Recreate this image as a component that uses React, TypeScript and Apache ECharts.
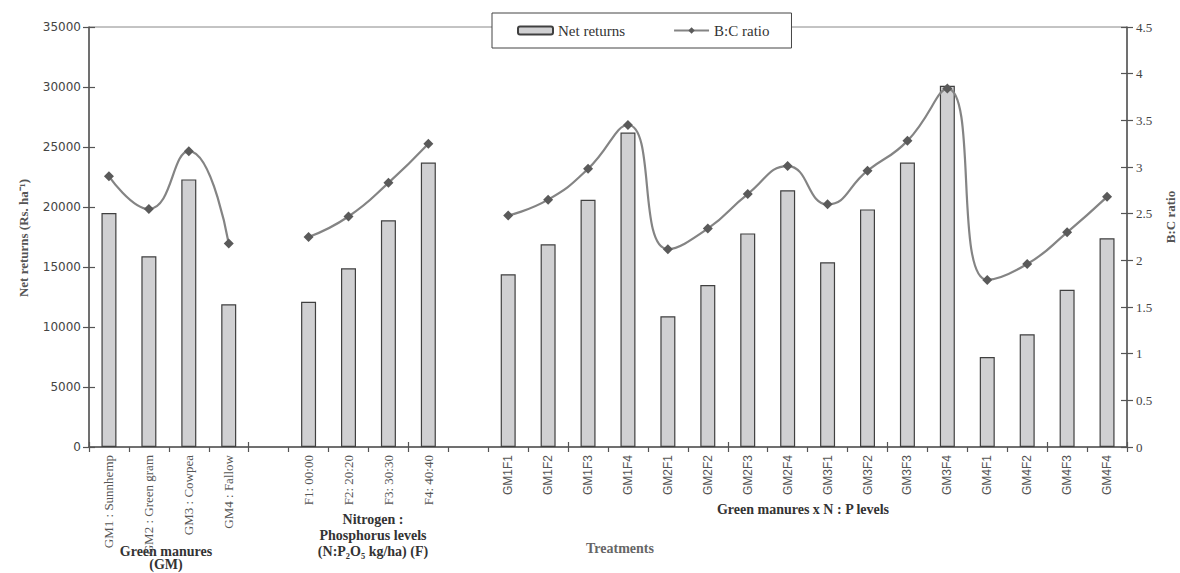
import React, { useEffect, useRef } from "react";
import * as echarts from "echarts";

// ---- data ----
const gmCategories = ["GM1 : Sunnhemp", "GM2 : Green gram", "GM3 : Cowpea", "GM4 : Fallow"];
const fCategories = ["F1: 00:00", "F2: 20:20", "F3: 30:30", "F4: 40:40"];
const comboCategories = [
  "GM1F1", "GM1F2", "GM1F3", "GM1F4",
  "GM2F1", "GM2F2", "GM2F3", "GM2F4",
  "GM3F1", "GM3F2", "GM3F3", "GM3F4",
  "GM4F1", "GM4F2", "GM4F3", "GM4F4",
];

const gmNetReturns = [19500, 15900, 22300, 11900];
const fNetReturns = [12100, 14900, 18900, 23700];
const comboNetReturns = [
  14400, 16900, 20600, 26200,
  10900, 13500, 17800, 21400,
  15400, 19800, 23700, 30100,
  7500, 9400, 13100, 17400,
];

const gmBC = [2.9, 2.55, 3.17, 2.18];
const fBC = [2.25, 2.47, 2.83, 3.25];
const comboBC = [
  2.48, 2.65, 2.98, 3.45,
  2.12, 2.34, 2.71, 3.01,
  2.6, 2.96, 3.28, 3.84,
  1.79, 1.96, 2.3, 2.68,
];

const leftTicks = { min: 0, max: 35000, interval: 5000 };
const rightTicks = { min: 0, max: 4.5, interval: 0.5 };

const categories = [...gmCategories, "", ...fCategories, "", ...comboCategories];
const netReturns = [...gmNetReturns, null, ...fNetReturns, null, ...comboNetReturns];
const bcRatio = [...gmBC, null, ...fBC, null, ...comboBC];

const SERIF = "'Liberation Serif', 'Times New Roman', serif";
const SANS = "'Liberation Sans', Arial, sans-serif";
const AXIS_COLOR = "#555";

export default function App() {
  const ref = useRef<HTMLDivElement>(null);

  useEffect(() => {
    if (!ref.current) return;
    const chart = echarts.init(ref.current, null, { renderer: "svg" });
    const grid = { left: 89, right: 53, top: 27, bottom: 126 };
    const option: any = {
      animation: false,
      backgroundColor: "#fff",
      grid: { ...grid, show: true, borderColor: "#888", borderWidth: 1, backgroundColor: "transparent" },
      legend: {
        left: 492,
        top: 13,
        padding: [10, 22, 10, 25],
        itemGap: 48,
        itemWidth: 35,
        itemHeight: 8,
        backgroundColor: "#fff",
        borderColor: "#444",
        borderWidth: 1,
        textStyle: { fontFamily: SERIF, fontSize: 15, color: "#333" },
        data: ["Net returns", "B:C ratio"],
      },
      xAxis: [
        {
          type: "category",
          data: categories,
          position: "bottom",
          axisLine: { lineStyle: { color: AXIS_COLOR, width: 1.5 } },
          axisTick: { show: true, length: 5, lineStyle: { color: AXIS_COLOR, width: 1.2 } },
          axisLabel: {
            interval: 0,
            rotate: 90,
            margin: 8,
            formatter: (v: string, i: number) => (i < 10 ? `{s|${v}}` : `{n|${v}}`),
            rich: {
              s: { fontFamily: SERIF, fontSize: 13, color: "#555" },
              n: { fontFamily: SANS, fontSize: 12, color: "#555" },
            },
          },
        },
        {
          type: "category",
          data: categories,
          position: "bottom",
          axisLine: { show: false },
          axisTick: { show: true, inside: true, length: 5, lineStyle: { color: AXIS_COLOR, width: 1.2 } },
          axisLabel: { show: false },
        },
      ],
      yAxis: [
        {
          type: "value",
          position: "left",
          ...leftTicks,
          splitLine: { show: false },
          axisLine: { show: true, lineStyle: { color: AXIS_COLOR, width: 1.5 } },
          axisTick: { show: true, length: 6, lineStyle: { color: AXIS_COLOR, width: 1.2 } },
          axisLabel: {
            fontFamily: "'DejaVu Sans', sans-serif",
            fontSize: 12,
            color: "#444",
            margin: 8,
            formatter: (v: number) => String(v),
          },
        },
        {
          type: "value",
          position: "right",
          ...rightTicks,
          splitLine: { show: false },
          axisLine: { show: true, lineStyle: { color: AXIS_COLOR, width: 1.5 } },
          axisTick: { show: true, length: 6, lineStyle: { color: AXIS_COLOR, width: 1.2 } },
          axisLabel: { fontFamily: SERIF, fontSize: 13, color: "#444", margin: 9, formatter: (v: number) => String(v) },
        },
        {
          type: "value",
          position: "left",
          ...leftTicks,
          splitLine: { show: false },
          axisLine: { show: false },
          axisTick: { show: true, inside: true, length: 6, lineStyle: { color: AXIS_COLOR, width: 1.2 } },
          axisLabel: { show: false },
        },
        {
          type: "value",
          position: "right",
          ...rightTicks,
          splitLine: { show: false },
          axisLine: { show: false },
          axisTick: { show: true, inside: true, length: 6, lineStyle: { color: AXIS_COLOR, width: 1.2 } },
          axisLabel: { show: false },
        },
      ],
      series: [
        {
          name: "Net returns",
          type: "bar",
          xAxisIndex: 0,
          yAxisIndex: 0,
          barWidth: 15,
          data: netReturns,
          itemStyle: { color: "#d0d0d2", borderColor: "#404040", borderWidth: 1.2 },
        },
        {
          name: "B:C ratio",
          type: "line",
          xAxisIndex: 0,
          yAxisIndex: 1,
          data: bcRatio,
          smooth: 0.5,
          connectNulls: false,
          symbol: "diamond",
          symbolSize: 10,
          itemStyle: { color: "#5a5a5a" },
          lineStyle: { color: "#848484", width: 2.2 },
        },
      ],
      graphic: [
        {
          type: "text",
          x: 23,
          y: 238,
          rotation: Math.PI / 2,
          style: {
            text: "Net returns (Rs. ha\u207B\u00B9)",
            font: `bold 13px ${SERIF}`,
            fill: "#555",
            align: "center",
            verticalAlign: "middle",
          },
        },
        {
          type: "text",
          x: 1170,
          y: 217,
          rotation: Math.PI / 2,
          style: {
            text: "B:C ratio",
            font: `bold 13px ${SERIF}`,
            fill: "#555",
            align: "center",
            verticalAlign: "middle",
          },
        },
        {
          type: "text",
          x: 166,
          y: 545,
          style: {
            text: "Green manures\n(GM)",
            font: `bold 14px ${SERIF}`,
            lineHeight: 13,
            fill: "#333",
            align: "center",
            verticalAlign: "top",
          },
        },
        {
          type: "text",
          x: 373,
          y: 511,
          style: {
            text: "Nitrogen :\nPhosphorus levels\n(N:P\u2082O\u2085 kg/ha) (F)",
            font: `bold 14px ${SERIF}`,
            lineHeight: 16,
            fill: "#333",
            align: "center",
            verticalAlign: "top",
          },
        },
        {
          type: "text",
          x: 803,
          y: 502,
          style: {
            text: "Green manures x N : P levels",
            font: `bold 14px ${SERIF}`,
            fill: "#333",
            align: "center",
            verticalAlign: "top",
          },
        },
        {
          type: "text",
          x: 620,
          y: 541,
          style: {
            text: "Treatments",
            font: `bold 14px ${SERIF}`,
            fill: "#666",
            align: "center",
            verticalAlign: "top",
          },
        },
      ],
    };
    chart.setOption(option);
    return () => chart.dispose();
  }, []);

  return (
    <div
      ref={ref}
      style={{ position: "absolute", left: 0, top: 0, width: 1180, height: 573, background: "#fff" }}
    />
  );
}
